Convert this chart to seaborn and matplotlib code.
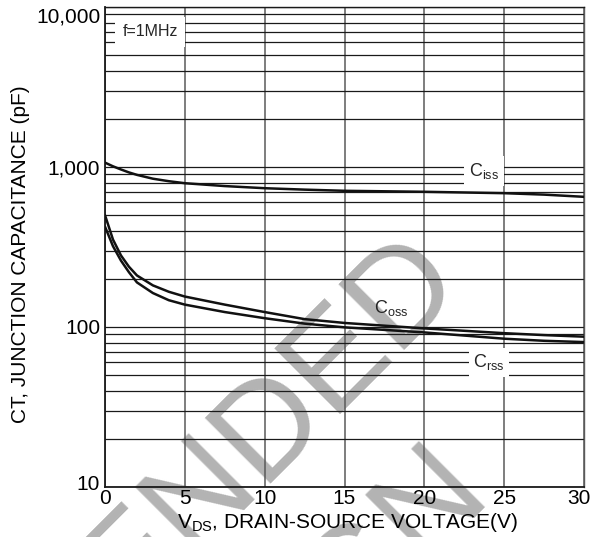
import numpy as np
import pandas as pd
import seaborn as sns
import matplotlib.pyplot as plt
from matplotlib.ticker import LogLocator, NullFormatter, FixedLocator
from matplotlib.transforms import ScaledTranslation

# Drain-source voltage grid (V)
vds = [0, 0.5, 1, 1.5, 2, 3, 4, 5, 7.5, 10, 12.5, 15, 20, 25, 27.5, 30]
# Capacitances (pF) at f = 1 MHz
ciss = [1065, 1010, 965, 925, 893, 845, 815, 792, 760, 737, 722, 710, 700, 686, 672, 651]
coss = [500, 352, 280, 238, 210, 182, 166, 155, 138, 124, 112, 106, 98, 91.5, 89, 87]
crss = [424, 320, 260, 220, 190, 163, 147, 138, 124, 113.5, 105, 99.5, 92.5, 84.5, 82, 80.5]

xticks = [0, 5, 10, 15, 20, 25, 30]
yticks = [10, 100, 1000, 10000]
ytick_labels = ["10", "100", "1,000", "10,000"]

sns.set_theme(style="white")
plt.rcParams["font.family"] = ["Liberation Sans", "DejaVu Sans"]
plt.rcParams["mathtext.fontset"] = "custom"
plt.rcParams["mathtext.rm"] = "Liberation Sans"
plt.rcParams["mathtext.it"] = "Liberation Sans:italic"
plt.rcParams["mathtext.default"] = "regular"

fig = plt.figure(figsize=(6.03, 5.37), dpi=100, facecolor="white")
ax = fig.add_axes([105 / 603, 50 / 537, 479 / 603, 480 / 537])
ax.patch.set_alpha(0)

# Diagonal status stamp behind the chart
stamp = dict(rotation=45, rotation_mode="anchor", fontsize=98,
             color="#b3b3b3", zorder=-1, family="Liberation Sans")
fig.text(467 / 603, 1 - 288 / 537, "NOT RECOMMENDED", ha="right", va="baseline", **stamp)
fig.text(494 / 603, 1 - 499 / 537, "FOR NEW DESIGN", ha="right", va="baseline", **stamp)

df = pd.DataFrame({"vds": vds, "ciss": ciss, "coss": coss, "crss": crss})
for col in ["ciss", "coss", "crss"]:
    sns.lineplot(data=df, x="vds", y=col, ax=ax, color="#111111", lw=1.8, zorder=5)

ax.set_yscale("log")
ax.set_xlim(0, 30)
ax.set_ylim(10, 10000)
ax.xaxis.set_major_locator(FixedLocator(xticks))
ax.set_xticklabels([str(t) for t in xticks])
ax.yaxis.set_major_locator(FixedLocator(yticks))
ax.set_yticklabels(ytick_labels)
ax.yaxis.set_minor_locator(LogLocator(base=10, subs=np.arange(2, 10)))
ax.yaxis.set_minor_formatter(NullFormatter())
ax.tick_params(axis="both", which="both", length=0, labelsize=15, colors="black")
ax.tick_params(axis="x", pad=1.5)
ax.tick_params(axis="y", pad=3.5)

# nudge the end labels inward, as on the printed chart
def nudge(label, dx_px, dy_px):
    label.set_transform(label.get_transform()
                        + ScaledTranslation(dx_px / 100, dy_px / 100, fig.dpi_scale_trans))

ylabels = ax.get_yticklabels()
nudge(ylabels[0], 0, 5)
nudge(ylabels[-1], 0, -8)
xlabels = ax.get_xticklabels()
nudge(xlabels[-1], -5, 0)

ax.grid(True, axis="y", which="both", color="#1a1a1a", lw=0.9, zorder=1)
ax.grid(True, axis="x", which="major", color="#5a5a5a", lw=1.1, zorder=1)
ax.set_axisbelow(True)
for side, sp in ax.spines.items():
    sp.set_color("#1a1a1a" if side in ("left", "bottom", "top") else "#5a5a5a")
    sp.set_linewidth(1.3 if side in ("left", "bottom") else 1.0)

ax.set_xlabel("V$_{\\rm DS}$, DRAIN-SOURCE VOLTAGE(V)", fontsize=15, color="black")
ax.set_ylabel("CT, JUNCTION CAPACITANCE (pF)", fontsize=15, color="black")
ax.xaxis.set_label_coords(0.505, -0.05)
ax.yaxis.set_label_coords(-0.157, 0.485)

box = dict(boxstyle="square,pad=0.25", fc="white", ec="none")
ax.text(2.82, 6980, "f=1MHz", fontsize=11.5, ha="center", va="center",
        bbox=dict(boxstyle="square,pad=0.45", fc="white", ec="none"), zorder=6)
ax.text(23.74, 944, "C$_{\\rm iss}$", fontsize=13, ha="center", va="center", bbox=box, zorder=6)
ax.text(17.9, 131.5, "C$_{\\rm oss}$", fontsize=13, ha="center", va="center", zorder=6)
ax.text(24.05, 60.4, "C$_{\\rm rss}$", fontsize=13, ha="center", va="center", bbox=box, zorder=6)

fig.savefig("out.png", dpi=100, facecolor="white")
